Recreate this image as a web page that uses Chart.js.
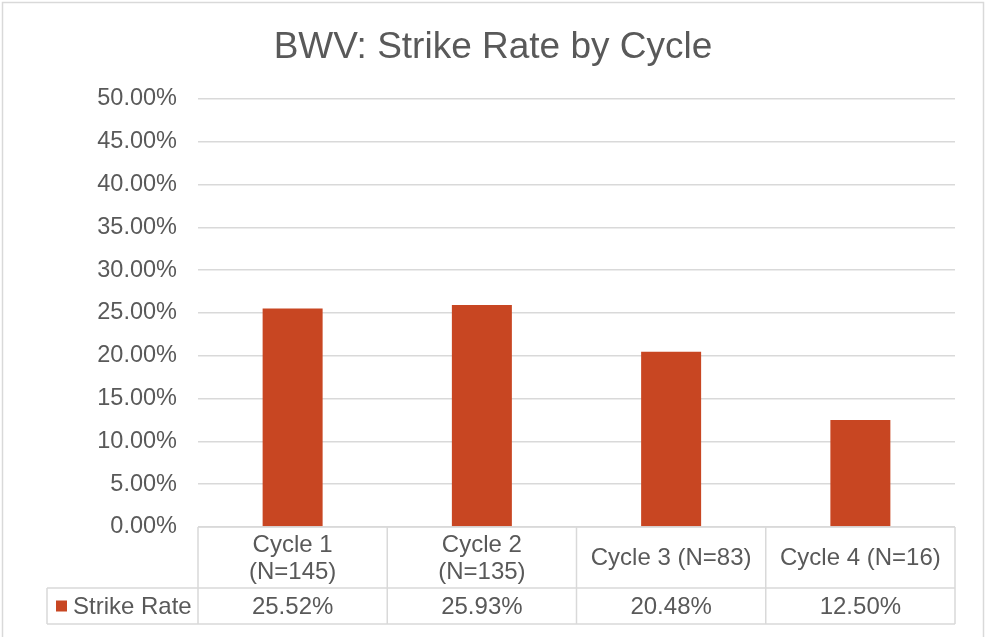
<!DOCTYPE html>
<html>
<head>
<meta charset="utf-8">
<script src="https://cdn.jsdelivr.net/npm/chart.js@4/dist/chart.umd.min.js"></script>
<style>
  html, body { margin: 0; padding: 0; background: #ffffff; }
  #wrap { width: 986px; height: 637px; }
</style>
</head>
<body>
<div id="wrap"><canvas id="c" width="986" height="637"></canvas></div>
<script>
// ---- data ----
const chartTitle = 'BWV: Strike Rate by Cycle';
const seriesName = 'Strike Rate';
const categories = [['Cycle 1', '(N=145)'], ['Cycle 2', '(N=135)'], ['Cycle 3 (N=83)'], ['Cycle 4 (N=16)']];
const strikeRate = [25.52, 25.93, 20.48, 12.50];
const yMin = 0;
const yMax = 50;
const yStep = 5;

// ---- style ----
const FONT = "'Liberation Sans', Arial, Helvetica, sans-serif";
const TEXT = '#595959';
const GRID = '#d9d9d9';
const BAR = '#c84622';

const tablePlugin = {
  id: 'dataTable',
  beforeDraw(chart) {
    const ctx = chart.ctx;
    ctx.save();
    ctx.fillStyle = '#ffffff';
    ctx.fillRect(0, 0, chart.width, chart.height);
    ctx.strokeStyle = GRID;
    ctx.lineWidth = 1.5;
    ctx.strokeRect(2.5, 2.5, chart.width - 5, chart.height + 20);
    ctx.restore();
  },
  afterDraw(chart) {
    const ctx = chart.ctx;
    const xs = chart.scales.x;
    const area = chart.chartArea;
    const n = categories.length;
    const colW = (area.right - area.left) / n;
    const top = area.bottom;
    const mid = top + 61;
    const bot = top + 97;
    const legLeft = 47;

    ctx.save();
    ctx.strokeStyle = GRID;
    ctx.lineWidth = 1.5;
    ctx.beginPath();
    ctx.moveTo(area.left, top); ctx.lineTo(area.right, top);
    ctx.moveTo(legLeft, mid); ctx.lineTo(area.right, mid);
    ctx.moveTo(legLeft, bot); ctx.lineTo(area.right, bot);
    ctx.moveTo(legLeft, mid); ctx.lineTo(legLeft, bot);
    for (let i = 0; i <= n; i++) {
      const x = area.left + colW * i;
      ctx.moveTo(x, top); ctx.lineTo(x, bot);
    }
    ctx.stroke();

    ctx.fillStyle = TEXT;
    ctx.font = '24px ' + FONT;
    ctx.textAlign = 'center';
    ctx.textBaseline = 'middle';
    const lh = 27;
    categories.forEach((lines, i) => {
      const cx = xs.getPixelForValue(i);
      const cy = (top + mid) / 2 + 1;
      const start = cy - (lines.length - 1) * lh / 2;
      lines.forEach((t, j) => ctx.fillText(t, cx, start + j * lh));
      ctx.fillText(strikeRate[i].toFixed(2) + '%', cx, (mid + bot) / 2 + 1);
    });

    // legend key
    ctx.fillStyle = BAR;
    ctx.fillRect(56, (mid + bot) / 2 - 5.5, 11, 11);
    ctx.fillStyle = TEXT;
    ctx.textAlign = 'left';
    ctx.fillText(seriesName, 73, (mid + bot) / 2 + 1);
    ctx.restore();
  }
};

new Chart(document.getElementById('c'), {
  type: 'bar',
  data: {
    labels: categories,
    datasets: [{
      label: seriesName,
      data: strikeRate,
      backgroundColor: BAR,
      borderWidth: 0,
      barPercentage: 1,
      categoryPercentage: 0.317
    }]
  },
  options: {
    responsive: false,
    animation: false,
    devicePixelRatio: 1,
    layout: { padding: { left: 0, right: 0, top: 0, bottom: 110 } },
    plugins: {
      legend: { display: false },
      tooltip: { enabled: false },
      title: {
        display: true,
        text: chartTitle,
        color: TEXT,
        font: { family: FONT, size: 37, weight: 'normal', lineHeight: 1.2 },
        padding: { top: 26, bottom: 28.6 }
      }
    },
    scales: {
      x: { display: false },
      y: {
        min: yMin,
        max: yMax,
        afterFit(scale) { scale.width = 198; },
        border: { display: false },
        grid: { color: GRID, lineWidth: 1.5, drawTicks: false },
        ticks: {
          stepSize: yStep,
          padding: 21,
          color: TEXT,
          font: { family: FONT, size: 23.5 },
          callback: v => v.toFixed(2) + '%'
        }
      },
      yRight: {
        position: 'right',
        display: true,
        afterFit(scale) { scale.width = 31; },
        border: { display: false },
        grid: { display: false },
        ticks: { display: false }
      }
    }
  },
  plugins: [tablePlugin]
});
</script>
</body>
</html>
